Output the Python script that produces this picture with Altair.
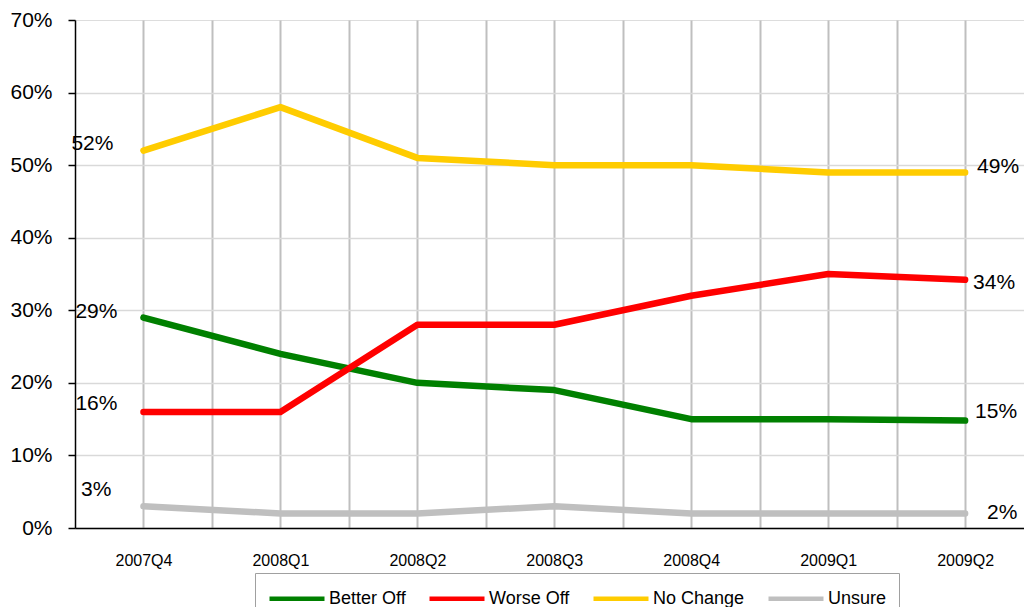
import altair as alt
import pandas as pd

quarters = ["2007Q4", "2008Q1", "2008Q2", "2008Q3", "2008Q4", "2009Q1", "2009Q2"]
series_names = ["Better Off", "Worse Off", "No Change", "Unsure"]
better_off = [29, 24, 20, 19, 15, 15, 14.8]
worse_off = [16, 16, 28, 28, 32, 35, 34.2]
no_change = [52, 58, 51, 50, 50, 49, 49]
unsure = [3, 2, 2, 3, 2, 2, 2]
colors = ["#008000", "#ff0000", "#ffcc00", "#bfbfbf"]

FONT = "Liberation Sans"

rows = []
for name, vals in zip(series_names, [better_off, worse_off, no_change, unsure]):
    for i, (q, v) in enumerate(zip(quarters, vals)):
        rows.append({"series": name, "idx": i, "quarter": q, "value": v / 100.0})
df = pd.DataFrame(rows)

label_expr = "[" + ",".join("'%s'" % q for q in quarters) + "][datum.value] || ''"

x_enc = alt.X(
    "idx:Q",
    scale=alt.Scale(domain=[-0.5, 6.43], nice=False, zero=False),
    axis=alt.Axis(
        values=[0, 0.5, 1, 1.5, 2, 2.5, 3, 3.5, 4, 4.5, 5, 5.5, 6],
        labelExpr="datum.value % 1 == 0 ? " + label_expr + " : ''",
        title=None,
        ticks=False,
        tickSize=0,
        labelPadding=24,
        labelFont=FONT,
        labelFontSize=16,
        labelColor="black",
        domainColor="black",
        domainWidth=1.5,
        gridColor="#bfbfbf",
        gridWidth=2,
        labelAngle=0,
    ),
)
y_enc = alt.Y(
    "value:Q",
    scale=alt.Scale(domain=[0, 0.7], nice=False),
    axis=alt.Axis(
        values=[0, 0.1, 0.2, 0.3, 0.4, 0.5, 0.6, 0.7],
        format=".0%",
        title=None,
        tickSize=7,
        tickColor="black",
        tickWidth=1.5,
        labelPadding=16,
        labelFont=FONT,
        labelFontSize=21,
        labelColor="black",
        domainColor="black",
        domainWidth=1.5,
        gridColor="#d9d9d9",
        gridOpacity={"condition": {"test": "datum.value > 0.69", "value": 0}, "value": 1},
        gridWidth=1.5,
    ),
)

base = alt.Chart(df)

lines = base.mark_line(strokeWidth=6.5, strokeCap="round", strokeJoin="round").encode(
    x=x_enc,
    y=y_enc,
    color=alt.Color(
        "series:N",
        scale=alt.Scale(domain=series_names, range=colors),
        sort=series_names,
        legend=alt.Legend(
            title=None,
            orient="none",
            direction="horizontal",
            legendX=180,
            legendY=553,
            symbolType="M-1,0L4,0",
            symbolSize=484,
            symbolStrokeWidth=4.5,
            labelFont=FONT,
            labelFontSize=18,
            labelColor="black",
            labelOffset=35,
            columnPadding=14,
            padding=12,
            strokeColor="#a0a0a0",
            fillColor="white",
        ),
    ),
    order=alt.Order("idx:Q"),
)

# label offsets: (series, position index, dx, dy, align)
label_specs = [
    ("No Change", 0, -30, -7, "right"),
    ("Better Off", 0, -26, -6, "right"),
    ("Worse Off", 0, -26, -8, "right"),
    ("Unsure", 0, -32, -16, "right"),
    ("No Change", 6, 12, -5, "left"),
    ("Worse Off", 6, 8, 3, "left"),
    ("Better Off", 6, 10, -9, "left"),
    ("Unsure", 6, 22, 0, "left"),
]

layers = [lines]
for s, i, dx, dy, al in label_specs:
    layers.append(
        base.transform_filter(
            (alt.datum.series == s) & (alt.datum.idx == i)
        ).mark_text(
            font=FONT, fontSize=21, color="black", dx=dx, dy=dy, align=al, baseline="middle"
        ).encode(
            x=alt.X("idx:Q"),
            y=alt.Y("value:Q"),
            text=alt.Text("value:Q", format=".0%"),
        )
    )

chart = alt.layer(*layers).properties(
    width=949,
    height=508,
    autosize=alt.AutoSizeParams(type="none"),
    padding={"left": 67, "top": 12, "right": 0, "bottom": 79},
).configure_view(strokeWidth=0, stroke="transparent").configure(background="white")

chart.save("out.html", embed_options={"renderer": "svg", "actions": False})
